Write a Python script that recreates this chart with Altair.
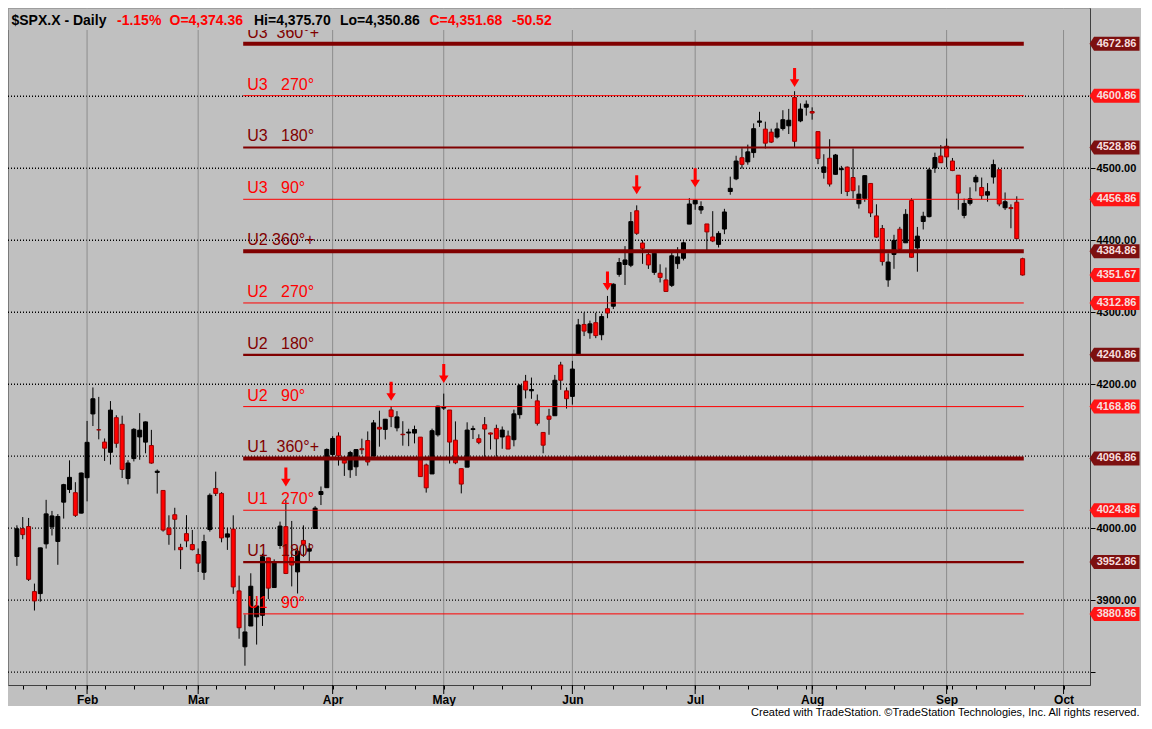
import altair as alt
import pandas as pd

symbol = "$SPX.X - Daily"
holidays = ["2023-01-16", "2023-02-20", "2023-04-07", "2023-05-29",
            "2023-06-19", "2023-07-04", "2023-09-04"]

# daily OHLC, 13 Jan 2023 .. 21 Sep 2023
opens = [
    3960.60, 3999.28, 4002.25, 3911.84, 3909.04, 3978.14, 4001.74, 3981.50, 4036.08, 4053.72, 4049.27, 4020.85,
    4070.07, 4158.68, 4136.69, 4119.57, 4105.35, 4153.47, 4144.25, 4068.92, 4096.62, 4126.70, 4119.50, 4114.75,
    4077.39, 4052.35, 4000.00, 4018.60, 3973.24, 3992.36, 3977.19,
    3963.34, 3938.68, 3998.02, 4055.15, 4048.26, 3987.55, 3998.66, 3912.77, 3835.12, 3863.99, 3876.74, 3878.93,
    3958.69, 3917.47, 3975.89, 4002.04, 3959.21, 3939.21, 3982.93, 3968.00, 3999.53, 4046.74, 4056.18,
    4102.20, 4128.03, 4094.50, 4081.15, 4085.20, 4110.29, 4121.72, 4100.04, 4140.11, 4137.17, 4164.26, 4139.33,
    4130.48, 4132.14, 4132.07, 4126.43, 4087.78, 4075.29, 4129.63,
    4166.79, 4164.10, 4122.25, 4082.61, 4084.73, 4136.98, 4124.25, 4143.74, 4132.24, 4138.54, 4126.65, 4127.95,
    4122.85, 4157.68, 4204.15, 4190.78, 4176.80, 4132.96, 4155.71, 4156.16, 4226.71, 4190.74,
    4183.03, 4241.01, 4282.99, 4271.34, 4285.47, 4268.69, 4304.88, 4308.32, 4352.61, 4366.29, 4365.33, 4440.95,
    4396.11, 4380.01, 4355.40, 4354.17, 4344.84, 4337.36, 4367.48, 4374.94, 4422.44,
    4450.48, 4442.04, 4422.62, 4404.54, 4394.23, 4415.55, 4467.69, 4485.26, 4514.61, 4508.86, 4521.78, 4563.87,
    4554.38, 4550.16, 4543.39, 4555.19, 4558.96, 4598.26, 4565.75, 4584.82,
    4578.83, 4550.93, 4494.27, 4513.96, 4491.58, 4498.03, 4501.57, 4487.16, 4450.69, 4458.13, 4478.87, 4433.79,
    4416.32, 4344.88, 4380.28, 4415.33, 4396.44, 4455.16, 4389.38, 4426.03, 4432.75, 4500.34, 4517.01,
    4530.60, 4510.06, 4490.35, 4434.55, 4451.30, 4480.98, 4473.27, 4462.65, 4487.78, 4497.98, 4445.13, 4445.41,
    4452.81, 4374.36,
]
highs = [
    4003.95, 4015.39, 4014.16, 3922.94, 3972.96, 4039.31, 4023.92, 4019.55, 4061.57, 4094.21, 4063.85, 4077.16,
    4148.95, 4195.44, 4182.36, 4124.63, 4176.54, 4156.85, 4156.23, 4094.36, 4138.90, 4159.77, 4148.11, 4136.54,
    4081.51, 4052.35, 4017.81, 4028.30, 3978.25, 4018.05, 3997.50,
    3971.73, 3990.84, 4048.29, 4078.49, 4050.00, 4000.41, 4017.81, 3934.05, 3880.00, 3937.29, 3898.00, 3964.46,
    3958.91, 3956.62, 4009.08, 4039.49, 4010.00, 3973.00, 4003.83, 3979.20, 4030.59, 4057.85, 4110.75,
    4127.66, 4133.13, 4099.69, 4107.32, 4109.50, 4124.26, 4134.37, 4150.26, 4163.19, 4151.72, 4169.48, 4162.57,
    4148.57, 4138.02, 4142.41, 4126.43, 4089.67, 4138.24, 4170.06,
    4186.92, 4164.10, 4148.30, 4082.61, 4147.02, 4142.30, 4130.35, 4154.28, 4132.80, 4143.74, 4141.25, 4135.54,
    4164.67, 4199.93, 4212.91, 4209.22, 4185.68, 4132.96, 4165.74, 4212.87, 4231.10, 4195.44,
    4232.43, 4290.67, 4299.28, 4288.33, 4299.19, 4298.01, 4322.62, 4340.13, 4375.37, 4391.82, 4439.20, 4448.47,
    4400.15, 4386.22, 4382.25, 4366.55, 4362.06, 4384.42, 4390.35, 4398.39, 4458.48,
    4456.46, 4454.06, 4422.62, 4440.39, 4412.60, 4443.64, 4488.34, 4517.38, 4527.76, 4532.85, 4562.30, 4578.43,
    4564.74, 4555.00, 4563.41, 4580.62, 4582.47, 4607.07, 4590.16, 4594.22,
    4584.62, 4550.93, 4519.49, 4540.34, 4519.84, 4503.31, 4502.44, 4527.37, 4476.23, 4490.33, 4478.87, 4449.95,
    4421.17, 4381.82, 4407.55, 4418.59, 4443.18, 4458.30, 4418.46, 4439.56, 4500.14, 4521.65, 4532.26,
    4541.25, 4514.29, 4490.35, 4457.81, 4473.53, 4490.77, 4487.11, 4479.39, 4511.99, 4497.98, 4466.36, 4449.85,
    4461.03, 4375.70,
]
lows = [
    3947.67, 3984.57, 3926.59, 3885.54, 3897.86, 3971.64, 3989.79, 3949.06, 4013.29, 4048.70, 4015.55, 4020.44,
    4037.20, 4141.88, 4123.36, 4093.38, 4088.39, 4111.67, 4069.67, 4060.79, 4092.67, 4095.01, 4103.98, 4089.49,
    4047.95, 3995.19, 3976.90, 3969.19, 3943.08, 3973.55, 3968.98,
    3939.05, 3928.16, 3995.17, 4044.61, 3980.31, 3969.76, 3908.70, 3846.32, 3808.86, 3863.99, 3838.24, 3864.11,
    3901.27, 3916.89, 3971.19, 3936.17, 3919.05, 3909.16, 3960.00, 3951.53, 3999.53, 4032.10, 4056.18,
    4098.79, 4086.87, 4072.56, 4069.84, 4072.55, 4102.61, 4086.94, 4099.40, 4113.20, 4123.18, 4140.36, 4134.49,
    4114.57, 4113.86, 4117.77, 4071.38, 4049.35, 4075.29, 4127.18,
    4164.12, 4089.72, 4088.86, 4048.28, 4084.73, 4123.81, 4116.65, 4098.92, 4109.29, 4099.12, 4110.27, 4109.86,
    4113.62, 4152.12, 4180.20, 4179.68, 4142.54, 4103.98, 4129.73, 4156.16, 4192.18, 4166.15,
    4171.64, 4241.01, 4266.82, 4263.09, 4263.96, 4261.07, 4291.70, 4304.37, 4349.31, 4337.85, 4362.60, 4407.44,
    4367.19, 4360.14, 4351.82, 4341.34, 4328.08, 4335.00, 4360.22, 4371.97, 4422.44,
    4442.29, 4436.61, 4385.05, 4397.40, 4389.92, 4408.46, 4463.23, 4483.45, 4499.56, 4504.90, 4514.59, 4557.48,
    4527.56, 4535.00, 4541.29, 4552.42, 4547.58, 4528.56, 4564.01, 4573.14,
    4567.53, 4505.75, 4485.54, 4474.55, 4491.15, 4464.39, 4461.33, 4457.92, 4443.98, 4453.44, 4432.19, 4403.55,
    4364.83, 4335.31, 4360.30, 4382.77, 4396.44, 4375.55, 4356.29, 4414.98, 4431.68, 4493.59, 4507.39,
    4501.35, 4496.01, 4442.38, 4430.46, 4448.38, 4467.89, 4456.83, 4453.52, 4478.69, 4447.21, 4442.11, 4416.61,
    4401.38, 4350.86,
]
closes = [
    3999.09, 3990.97, 3928.86, 3898.85, 3972.61, 4019.81, 4016.95, 4016.22, 4060.43, 4070.56, 4017.77, 4076.60,
    4119.21, 4179.76, 4136.48, 4111.08, 4164.00, 4117.86, 4081.50, 4090.46, 4137.29, 4136.13, 4147.60, 4090.41,
    4079.09, 3997.34, 3991.05, 4012.32, 3970.04, 3982.24, 3970.15,
    3951.39, 3981.35, 4045.64, 4048.26, 3986.37, 3992.01, 3918.32, 3861.59, 3855.76, 3919.29, 3891.93, 3960.28,
    3916.64, 3951.57, 4002.87, 3936.97, 3948.72, 3968.00, 3977.53, 3971.27, 4027.81, 4050.83, 4109.31,
    4124.51, 4100.60, 4090.38, 4105.02, 4109.11, 4108.94, 4091.95, 4146.22, 4137.64, 4151.32, 4154.87, 4154.52,
    4129.79, 4133.52, 4137.04, 4071.63, 4055.99, 4135.35, 4169.48,
    4167.87, 4119.58, 4090.75, 4061.22, 4136.25, 4138.12, 4119.17, 4137.64, 4130.62, 4124.08, 4136.28, 4109.90,
    4158.77, 4198.05, 4191.98, 4192.63, 4145.58, 4115.24, 4151.28, 4205.45, 4205.52, 4179.83,
    4221.02, 4282.37, 4273.79, 4283.85, 4267.52, 4293.93, 4298.86, 4338.93, 4369.01, 4372.59, 4425.84, 4409.59,
    4388.71, 4365.69, 4381.89, 4348.33, 4328.82, 4378.41, 4376.86, 4396.44, 4450.38,
    4455.59, 4446.82, 4411.59, 4398.95, 4409.53, 4439.26, 4472.16, 4510.04, 4505.42, 4522.79, 4554.98, 4565.72,
    4534.87, 4536.34, 4554.64, 4567.46, 4566.75, 4537.41, 4582.23, 4588.96,
    4576.73, 4513.39, 4501.89, 4478.03, 4518.44, 4499.38, 4467.71, 4468.83, 4464.05, 4489.72, 4437.86, 4404.33,
    4370.36, 4369.71, 4399.77, 4387.55, 4436.01, 4376.31, 4405.71, 4433.31, 4497.63, 4514.87, 4507.66,
    4515.77, 4496.83, 4465.48, 4451.14, 4457.49, 4487.46, 4461.90, 4467.44, 4505.10, 4450.32, 4453.53, 4443.95,
    4402.20, 4351.68,
]

# Gann square levels drawn from the March low
gann_anchor = "2023-03-13"
level_prices = [4672.86, 4600.86, 4528.86, 4456.86, 4384.86, 4312.86,
                4240.86, 4168.86, 4096.86, 4024.86, 3952.86, 3880.86]
level_names = ["U3  360°+", "U3   270°", "U3   180°", "U3   90°",
               "U2 360°+", "U2   270°", "U2   180°", "U2   90°",
               "U1  360°+", "U1   270°", "U1   180°", "U1   90°"]
last_price = 4351.67

arrow_days = ["2023-03-22", "2023-04-18", "2023-05-01", "2023-06-09",
              "2023-06-16", "2023-07-03", "2023-07-27"]
arrow_tips = [4058.0, 4177.0, 4201.6, 4330.0, 4464.0, 4473.6, 4613.0]

price_ticks = [3800, 3900, 4000, 4100, 4200, 4300, 4400, 4500, 4600]
footer = "Created with TradeStation. \u00a9TradeStation Technologies, Inc. All rights reserved."

FONT = "Liberation Sans"
W, H = 1082, 677
PAD_R, PAD_B = 51, 33
X = alt.Scale(domain=[-0.667, 182.667], nice=False, zero=False)
Y = alt.Scale(domain=[3782.06, 4722.66], nice=False, zero=False)

days = pd.bdate_range("2023-01-13", "2023-10-02")
days = days[~days.isin(pd.to_datetime(holidays))]
day_idx = {d: i for i, d in enumerate(days)}
n = len(closes)

bars = pd.DataFrame({"i": range(n), "open": opens, "high": highs,
                     "low": lows, "close": closes})
up = bars[bars.close >= bars.open]
down = bars[bars.close < bars.open]

month_idx = [i for i in range(1, len(days)) if days[i].month != days[i - 1].month]
month_names = [days[i].strftime("%b") for i in month_idx]
week_idx = [i for i in range(1, len(days)) if days[i].weekday() < days[i - 1].weekday()]
x_ticks = sorted(set(month_idx) | set(week_idx))
months = pd.DataFrame({"m": month_idx})
grid = pd.DataFrame({"p": price_ticks})

anchor = day_idx[pd.Timestamp(gann_anchor)]
lv = pd.DataFrame({"price": level_prices,
                   "name": [s.replace(" ", "\u00a0") for s in level_names]})
lv["kind"] = ["360" if "360" in s else "180" if "180" in s else "x" for s in level_names]
lv["x0"] = anchor - 0.3
lv["x1"] = n - 1 + 0.2
pens = pd.concat([lv[["price", "kind"]],
                  pd.DataFrame({"price": [last_price], "kind": ["now"]})])
arrows = pd.DataFrame({"i": [day_idx[pd.Timestamp(d)] for d in arrow_days],
                       "tip": arrow_tips})

x_axis = alt.Axis(
    values=x_ticks, grid=False, tickSize=4, tickColor="black", domainColor="#404040",
    labelExpr=f"indexof({month_idx}, datum.value) >= 0 ? "
              f"{month_names}[indexof({month_idx}, datum.value)] : ''",
    labelFont=FONT, labelFontSize=12, labelFontWeight="bold", labelColor="black",
    labelPadding=5, labelOverlap=False, labelFlush=False, title=None)
y_axis = alt.Axis(
    orient="right", values=price_ticks, tickSize=5, tickColor="black", domainColor="#404040",
    labelExpr="datum.value == 3800 ? '' : format(datum.value, '.2f')",
    labelFont=FONT, labelFontSize=11, labelFontWeight="bold", labelColor="black",
    labelPadding=1, labelOverlap=False, labelFlush=False, grid=False, title=None)


def xq(field):
    return alt.X(f"{field}:Q", scale=X, axis=x_axis)


def yq(field):
    return alt.Y(f"{field}:Q", scale=Y, axis=y_axis)


one = alt.Data(values=[{}])

paper = alt.Chart(one).mark_rect(color="white").encode(
    x=alt.value(0), x2=alt.value(W + PAD_R), y=alt.value(H + 21), y2=alt.value(H + PAD_B))

# grid: dotted prices every 100, light verticals at each month's first session
h_grid = alt.Chart(grid).mark_rule(
    color="black", strokeDash=[1, 2], strokeWidth=1.4, strokeCap="butt").encode(
    y=yq("p"), x=alt.value(0), x2=alt.value(W))
month_lines = alt.Chart(months).mark_rule(color="#8c8c8c", strokeWidth=1).encode(
    x=xq("m"), y=alt.value(0), y2=alt.value(H))
month_ticks = alt.Chart(months).mark_rule(color="black").encode(
    x=xq("m"), y=alt.value(H), y2=alt.value(H + 9))

wicks = alt.Chart(bars).mark_rule(color="black", strokeWidth=1).encode(
    x=xq("i"), y=yq("low"), y2="high:Q")

up_bodies = alt.Chart(up).mark_bar(size=4, color="black", stroke="black", strokeWidth=1).encode(
    x=xq("i"), y=yq("open"), y2="close:Q")
down_bodies = alt.Chart(down).mark_bar(size=4, color="#ff0000", stroke="#9b0000", strokeWidth=1).encode(
    x=xq("i"), y=yq("open"), y2="close:Q")

level_text = alt.Chart(lv).mark_text(
    align="left", baseline="alphabetic", dx=4, dy=-6, font=FONT, fontSize=16).encode(
    x=xq("x0"), y=yq("price"), text="name:N",
    color=alt.condition("datum.kind == 'x'", alt.value("#ff0000"), alt.value("#800000")))

# header band of the window covers the top of the plot
band = alt.Chart(one).mark_rect(color="#c0c0c0").encode(
    x=alt.value(0.5), x2=alt.value(W - 0.5), y=alt.value(0.5), y2=alt.value(22))


def level_lines(kind, color, width):
    return alt.Chart(lv).transform_filter(f"datum.kind == '{kind}'").mark_rule(
        color=color, strokeWidth=width).encode(x=xq("x0"), x2="x1:Q", y=yq("price"))


ARROW = "M-0.16,-1L0.16,-1L0.16,0.2L0.5,0.2L0,1L-0.5,0.2L-0.16,0.2Z"
arrow_marks = alt.Chart(arrows).mark_point(
    shape=ARROW, size=361, filled=True, color="#ff0000", opacity=1, yOffset=-9.5).encode(
    x=xq("i"), y=yq("tip"))

PENNANT = "M-1,0L-0.82,-0.28L1,-0.28L1,0.28L-0.82,0.28Z"
pen_shapes = alt.Chart(pens).mark_point(
    shape=PENNANT, size=2500, filled=True, opacity=1, strokeWidth=0).encode(
    x=alt.value(W + 24.5), y=yq("price"),
    color=alt.condition("datum.kind == '360' || datum.kind == '180'",
                        alt.value("#7d1010"), alt.value("#ff1515")))
pen_text = alt.Chart(pens).mark_text(
    font=FONT, fontSize=11, fontWeight="bold", color="#f6dede",
    align="center", baseline="middle").encode(
    x=alt.value(W + 26.5), y=yq("price"), text=alt.Text("price:Q", format=".2f"))

chg = closes[-1] - closes[-2]
header = [
    (symbol, "black", 3.5),
    (f"{chg / closes[-2] * 100:.2f}%", "#ff0000", 109),
    (f"O={opens[-1]:,.2f}", "#ff0000", 161.5),
    (f"Hi={highs[-1]:,.2f}", "black", 246),
    (f"Lo={lows[-1]:,.2f}", "black", 332),
    (f"C={closes[-1]:,.2f}", "#ff0000", 421.5),
    (f"{chg:.2f}", "#ff0000", 504),
]
header_layers = [
    alt.Chart(one).mark_text(text=t, color=c, font=FONT, fontSize=14, fontWeight="bold",
                             align="left", baseline="alphabetic").encode(
        x=alt.value(px), y=alt.value(16.5))
    for t, c, px in header
]
footer_text = alt.Chart(one).mark_text(
    text=footer, color="black", font=FONT, fontSize=11, align="right",
    baseline="alphabetic").encode(x=alt.value(W + PAD_R - 1.5), y=alt.value(H + 31))

chart = alt.layer(
    paper, h_grid, month_lines, month_ticks, wicks, up_bodies, down_bodies, level_text, band,
    level_lines("x", "#ff0000", 1), level_lines("180", "#800000", 2.2),
    level_lines("360", "#800000", 4),
    arrow_marks, pen_shapes, pen_text, *header_layers, footer_text,
).properties(
    width=W, height=H,
    autosize=alt.AutoSizeParams(type="none"),
    padding={"left": 0, "top": 0, "right": PAD_R, "bottom": PAD_B},
).configure(background="#c0c0c0", font=FONT).configure_view(stroke="#7a7a7a")

chart.save("out.html", embed_options={"renderer": "svg", "actions": False})
